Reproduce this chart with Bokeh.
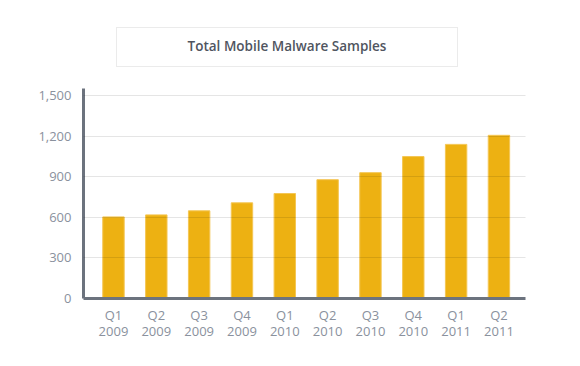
from bokeh.plotting import figure
from bokeh.models import Range1d, FixedTicker, NumeralTickFormatter, Div
from bokeh.layouts import column
from bokeh.embed import file_html
from bokeh.resources import INLINE

quarters = ["Q1", "Q2", "Q3", "Q4", "Q1", "Q2", "Q3", "Q4", "Q1", "Q2"]
years = ["2009", "2009", "2009", "2009", "2010", "2010", "2010", "2010", "2011", "2011"]
samples = [603, 618, 648, 707, 776, 878, 930, 1049, 1139, 1206]
y_ticks = [0, 300, 600, 900, 1200, 1500]
title_text = "Total Mobile Malware Samples"

FONT = "Open Sans"
LABEL_COLOR = "#8a919d"
AXIS_COLOR = "#6c737e"

idx = list(range(len(samples)))

title = Div(text=title_text, width=342, height=40, margin=(27, 0, 0, 116),
            styles={"border": "1px solid #ebebeb", "box-sizing": "border-box",
                    "text-align": "center", "line-height": "37px",
                    "font-family": FONT, "font-size": "13.5px", "font-weight": "600",
                    "color": "#50555f"})

p = figure(width=570, height=275, output_backend="svg", toolbar_location=None,
           x_range=Range1d(-0.70, 9.62), y_range=Range1d(0, 1552),
           min_border_left=83, min_border_right=45, min_border_top=21,
           min_border_bottom=10, outline_line_color=None)

p.vbar(x=idx, top=samples, width=0.5, fill_color="#edb112",
       line_color="#f4c654", line_width=1)

p.yaxis.ticker = FixedTicker(ticks=y_ticks)
p.yaxis.formatter = NumeralTickFormatter(format="0,0")
p.xaxis.ticker = FixedTicker(ticks=idx)
p.xaxis.major_label_overrides = {i: f"{q}\n{y}" for i, (q, y) in enumerate(zip(quarters, years))}

for ax in (p.xaxis, p.yaxis):
    ax.axis_line_color = AXIS_COLOR
    ax.axis_line_width = 3
    ax.major_tick_line_color = None
    ax.minor_tick_line_color = None
    ax.major_label_text_font = FONT
    ax.major_label_text_font_size = "13px"
    ax.major_label_text_color = LABEL_COLOR

p.yaxis.major_label_standoff = 6
p.xaxis.major_label_standoff = 1
p.xaxis.major_label_text_line_height = 0.9

p.xgrid.grid_line_color = None
p.ygrid.ticker = FixedTicker(ticks=y_ticks[1:])
p.ygrid.grid_line_color = "black"
p.ygrid.grid_line_alpha = 0.1
p.ygrid.level = "annotation"

layout = column(title, p, spacing=0)
open("out.html", "w").write(file_html(layout, INLINE))
